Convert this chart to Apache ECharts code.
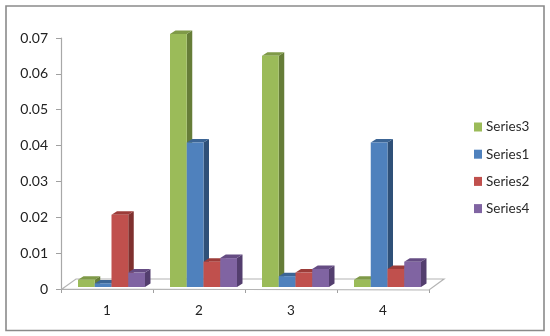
<!DOCTYPE html>
<html>
<head>
<meta charset="utf-8">
<style>html,body{margin:0;padding:0;background:#fff}#c{width:550px;height:336px}</style>
<script src="https://cdn.jsdelivr.net/npm/echarts@6/dist/echarts.min.js"></script>
</head>
<body>
<div id="c"></div>
<script>
const categories = ['1', '2', '3', '4'];
const series3 = [0.002, 0.07, 0.064, 0.002];
const series1 = [0.001, 0.04, 0.003, 0.04];
const series2 = [0.02, 0.007, 0.004, 0.005];
const series4 = [0.004, 0.008, 0.005, 0.007];
const yMax = 0.07;
const yStep = 0.01;

const styles = [
  { name: 'Series3', data: series3, front: '#9BBB59', top: '#7F9A48', side: '#667D38' },
  { name: 'Series1', data: series1, front: '#4F81BD', top: '#3C6595', side: '#2F5078' },
  { name: 'Series2', data: series2, front: '#C0504D', top: '#9C3C39', side: '#7F302E' },
  { name: 'Series4', data: series4, front: '#8064A2', top: '#654C83', side: '#533E6E' }
];
const DX = 5.5, DY = 3.5, BAR_FRAC = 16.75 / 92;

function barRenderer(slot) {
  return function (params, api) {
    const base = api.coord([api.value(0), 0]);
    const top = api.coord([api.value(0), api.value(1)]);
    const w = api.size([1, 0])[0] * BAR_FRAC;
    const x0 = base[0] + (slot - 2) * w, x1 = x0 + w;
    const y0 = base[1], y1 = top[1];
    const s = styles[slot];
    return {
      type: 'group',
      children: [
        { type: 'polygon', shape: { points: [[x1, y1], [x1 + DX, y1 - DY], [x1 + DX, y0 - DY], [x1, y0]] }, style: { fill: s.side } },
        { type: 'polygon', shape: { points: [[x0, y1], [x0 + DX, y1 - DY], [x1 + DX, y1 - DY], [x1, y1]] }, style: { fill: s.top } },
        { type: 'rect', shape: { x: x0, y: y1, width: w, height: y0 - y1 }, style: { fill: s.front } }
      ]
    };
  };
}

function floorRenderer(params) {
  const c = params.coordSys;
  const xl = c.x, xr = c.x + c.width, y = c.y + c.height;
  return {
    type: 'polygon',
    shape: { points: [[xl + 1, y], [xl + 15, y - 10], [xr + 15, y - 10], [xr, y + 1]] },
    style: { fill: '#fff', stroke: '#B4B4B4', lineWidth: 1.2 }
  };
}

const chart = echarts.init(document.getElementById('c'), null, { renderer: 'canvas' });
chart.setOption({
  animation: false,
  backgroundColor: '#fff',
  graphic: [{
    type: 'rect', silent: true, z: -10,
    shape: { x: 6, y: 6, width: 538, height: 324.5 },
    style: { fill: '#fff', stroke: '#8A8A8A', lineWidth: 1.6 }
  }],
  legend: {
    data: styles.map(s => s.name),
    orient: 'vertical',
    left: 474,
    top: 118,
    icon: 'rect',
    itemWidth: 8,
    itemHeight: 9,
    itemGap: 9.2,
    selectedMode: false,
    padding: 0,
    textStyle: { fontFamily: 'Lato', fontSize: 13.5, color: '#2A2A2A', padding: [0, 0, 0, -1], lineHeight: 18 }
  },
  grid: [
    { left: 61, top: 38, width: 368, height: 251 },
    { left: 65.5, top: 34, width: 368, height: 253 }
  ],
  xAxis: [
    {
      type: 'category', gridIndex: 0, data: categories,
      axisLine: { lineStyle: { color: '#A8A8A8', width: 1.2 } },
      axisTick: { show: true, length: 4, lineStyle: { color: '#A0A0A0' } },
      axisLabel: { fontFamily: 'Lato', fontSize: 13.5, color: '#222', margin: 15 }
    },
    { type: 'category', gridIndex: 1, data: categories, show: false }
  ],
  yAxis: [
    {
      type: 'value', gridIndex: 0, min: 0, max: yMax, interval: yStep,
      splitLine: { show: false },
      axisLine: { show: true, lineStyle: { color: '#A8A8A8', width: 1.2 } },
      axisTick: { show: true, length: 5, lineStyle: { color: '#A0A0A0' } },
      axisLabel: { fontFamily: 'Lato', fontSize: 14, color: '#222', margin: 13, formatter: v => String(+v.toFixed(2)) }
    },
    { type: 'value', gridIndex: 1, min: 0, max: yMax, interval: yStep, show: false }
  ],
  series: [
    {
      type: 'custom', name: 'floor', xAxisIndex: 0, yAxisIndex: 0, z: 1,
      silent: true, clip: false,
      renderItem: floorRenderer, data: [[0, 0]]
    }
  ].concat(styles.map((s, i) => ({
    type: 'custom',
    name: s.name,
    xAxisIndex: 1,
    yAxisIndex: 1,
    z: 3 + i,
    clip: false,
    itemStyle: { color: s.front },
    renderItem: barRenderer(i),
    encode: { x: 0, y: 1 },
    data: s.data.map((v, k) => [k, v])
  })))
});
</script>
</body>
</html>
